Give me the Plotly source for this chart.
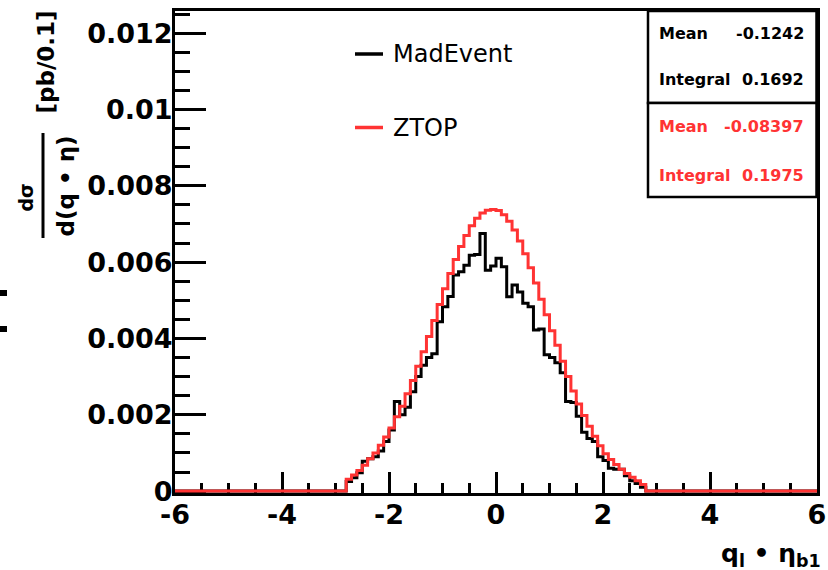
import plotly.graph_objects as go

# ---------------- DATA ----------------
X_MIN, X_MAX, BIN_WIDTH = -6.0, 6.0, 0.1
FILLED_FROM = -2.8   # first non-empty bin edge

madevent_values = [
    0.00025, 0.00035, 0.00048, 0.00078, 0.00085, 0.00090, 0.00105, 0.00130, 0.00160, 0.00235,
    0.00200, 0.00220, 0.00260, 0.00300, 0.00330, 0.00350, 0.00360, 0.00444, 0.00483, 0.00510,
    0.00566, 0.00575, 0.00592, 0.00618, 0.00620, 0.00675, 0.00579, 0.00590, 0.00610, 0.00588,
    0.00509, 0.00540, 0.00522, 0.00492, 0.00483, 0.00422, 0.00425, 0.00357, 0.00350, 0.00336,
    0.00310, 0.00235, 0.00232, 0.00196, 0.00154, 0.00138, 0.00130, 0.00090, 0.00080, 0.00060,
    0.00057, 0.00057, 0.00040, 0.00027, 0.00020, 0.00010,
]
ztop_values = [
    0.00031, 0.00042, 0.00054, 0.00068, 0.00085, 0.00100, 0.00120, 0.00142, 0.00165, 0.00195,
    0.00222, 0.00255, 0.00290, 0.00327, 0.00365, 0.00405, 0.00447, 0.00489, 0.00530, 0.00570,
    0.00607, 0.00641, 0.00670, 0.00695, 0.00715, 0.00729, 0.00736, 0.00738, 0.00735, 0.00724,
    0.00707, 0.00684, 0.00655, 0.00622, 0.00585, 0.00545, 0.00503, 0.00462, 0.00420, 0.00382,
    0.00340, 0.00300, 0.00262, 0.00228, 0.00198, 0.00170, 0.00144, 0.00119, 0.00098, 0.00083,
    0.00070, 0.00057, 0.00046, 0.00036, 0.00027, 0.00017,
]

x_tick_vals = [-6, -4, -2, 0, 2, 4, 6]
x_tick_text = ["-6", "-4", "-2", "0", "2", "4", "6"]
y_tick_vals = [0, 0.002, 0.004, 0.006, 0.008, 0.010, 0.012]
y_tick_text = ["0", "0.002", "0.004", "0.006", "0.008", "0.01", "0.012"]

stats_madevent = [("Mean", "-0.1242"), ("Integral", "0.1692")]
stats_ztop = [("Mean", "-0.08397"), ("Integral", "0.1975")]
legend_names = ["MadEvent", "ZTOP"]

Y_MIN, Y_MAX = -0.00005, 0.01258

# ---------------- helpers ----------------
W, H = 828, 570
L, R, T, B = 175, 11, 11, 77
PW, PH = W - L - R, H - T - B


def px(X):
    return (X - L) / PW


def py(Y):
    return (H - B - Y) / PH


n_bins = int(round((X_MAX - X_MIN) / BIN_WIDTH))
lead = int(round((FILLED_FROM - X_MIN) / BIN_WIDTH))


def full_hist(vals):
    full = [0.0] * lead + list(vals)
    full += [0.0] * (n_bins - len(full))
    return full


edges = [round(X_MIN + i * BIN_WIDTH, 6) for i in range(n_bins + 1)]


def step_xy(vals):
    full = full_hist(vals)
    return edges, full + [full[-1]]


BLACK = "#000000"
RED = "#ff3333"
FONT = "DejaVu Sans"

fig = go.Figure()
for vals, col in [(madevent_values, BLACK), (ztop_values, RED)]:
    xs, ys = step_xy(vals)
    fig.add_trace(go.Scatter(x=xs, y=ys, mode="lines", line=dict(color=col, width=3, shape="hv"),
                             showlegend=False, hoverinfo="skip", cliponaxis=False))

fig.update_layout(
    width=W, height=H,
    margin=dict(l=L, r=R, t=T, b=B, pad=0, autoexpand=False),
    paper_bgcolor="white", plot_bgcolor="white",
    showlegend=False,
)
fig.update_xaxes(
    range=[X_MIN, X_MAX], showgrid=False, zeroline=False, automargin=False,
    showline=True, linecolor="black", linewidth=3, mirror=True, layer="below traces",
    tickmode="array", tickvals=x_tick_vals, ticktext=x_tick_text,
    ticks="inside", ticklen=21, tickwidth=3, tickcolor="black",
    minor=dict(tickmode="linear", tick0=0, dtick=0.5, ticks="inside", ticklen=10, tickwidth=3, tickcolor="black"),
    tickfont=dict(family=FONT, size=27, color="black", weight="bold"),
    ticklabelstandoff=-4,
)
fig.update_yaxes(
    range=[Y_MIN, Y_MAX], showgrid=False, zeroline=False, automargin=False,
    showline=True, linecolor="black", linewidth=3, mirror=True, layer="below traces",
    tickmode="array", tickvals=y_tick_vals, ticktext=y_tick_text,
    ticks="inside", ticklen=31, tickwidth=3, tickcolor="black",
    minor=dict(tickmode="linear", tick0=0, dtick=0.0005, ticks="inside", ticklen=15, tickwidth=3, tickcolor="black"),
    tickfont=dict(family=FONT, size=27, color="black", weight="bold"),
    ticklabelstandoff=-6,
)

shapes = []
annotations = []

# stats box
for (y0, y1) in [(11, 103), (103, 197)]:
    shapes.append(dict(type="rect", xref="paper", yref="paper", x0=px(648), x1=px(816.5),
                       y0=py(y1), y1=py(y0), line=dict(color="black", width=2.5), fillcolor="white", layer="above"))
for rows, col, ys in [(stats_madevent, BLACK, [33.5, 79.5]), (stats_ztop, RED, [126.5, 175.5])]:
    for (lab, val), yy in zip(rows, ys):
        annotations.append(dict(text=lab, xref="paper", yref="paper", x=px(657), y=py(yy),
                                xanchor="left", yanchor="middle", showarrow=False,
                                font=dict(family=FONT, size=16, color=col, weight="bold")))
        annotations.append(dict(text=val, xref="paper", yref="paper", x=px(806), y=py(yy),
                                xanchor="right", yanchor="middle", showarrow=False,
                                font=dict(family=FONT, size=16, color=col, weight="bold")))

# legend
for name, col, yy in zip(legend_names, [BLACK, RED], [54, 127.5]):
    shapes.append(dict(type="line", xref="paper", yref="paper", x0=px(355), x1=px(383),
                       y0=py(yy), y1=py(yy), line=dict(color=col, width=3.5)))
    annotations.append(dict(text=name, xref="paper", yref="paper", x=px(391), y=py(yy),
                            xanchor="left", yanchor="middle", showarrow=False,
                            font=dict(family=FONT, size=24, color="black")))

# y-axis title pieces
annotations.append(dict(text="[pb/0.1]", xref="paper", yref="paper", x=px(46), y=py(62.5),
                        xanchor="center", yanchor="middle", textangle=-90, showarrow=False,
                        font=dict(family=FONT, size=23, color="black", weight="bold")))
annotations.append(dict(text="dσ", xref="paper", yref="paper", x=px(25.5), y=py(198),
                        xanchor="center", yanchor="middle", textangle=-90, showarrow=False,
                        font=dict(family=FONT, size=19, color="black", weight="bold")))
annotations.append(dict(text="d(q • η)", xref="paper", yref="paper", x=px(65.5), y=py(186),
                        xanchor="center", yanchor="middle", textangle=-90, showarrow=False,
                        font=dict(family=FONT, size=23, color="black", weight="bold")))
shapes.append(dict(type="line", xref="paper", yref="paper", x0=px(43), x1=px(43),
                   y0=py(238), y1=py(133), line=dict(color="black", width=3)))

# clipped glyph fragments at far left edge
for (ya, yb) in [(290, 296), (326, 332)]:
    shapes.append(dict(type="rect", xref="paper", yref="paper", x0=px(0), x1=px(7),
                       y0=py(yb), y1=py(ya), line=dict(width=0), fillcolor="black"))

# x-axis title
annotations.append(dict(text="<b>q<sub>l</sub> • η<sub>b1</sub></b>", xref="paper", yref="paper",
                        x=px(823), y=py(555), xanchor="right", yanchor="middle", showarrow=False,
                        font=dict(family=FONT, size=25, color="black")))

fig.update_layout(shapes=shapes, annotations=annotations)
fig.write_html(
    "out.html",
    config={"displayModeBar": False},
    post_script="document.body.style.margin='0';document.body.style.overflow='hidden';",
)
